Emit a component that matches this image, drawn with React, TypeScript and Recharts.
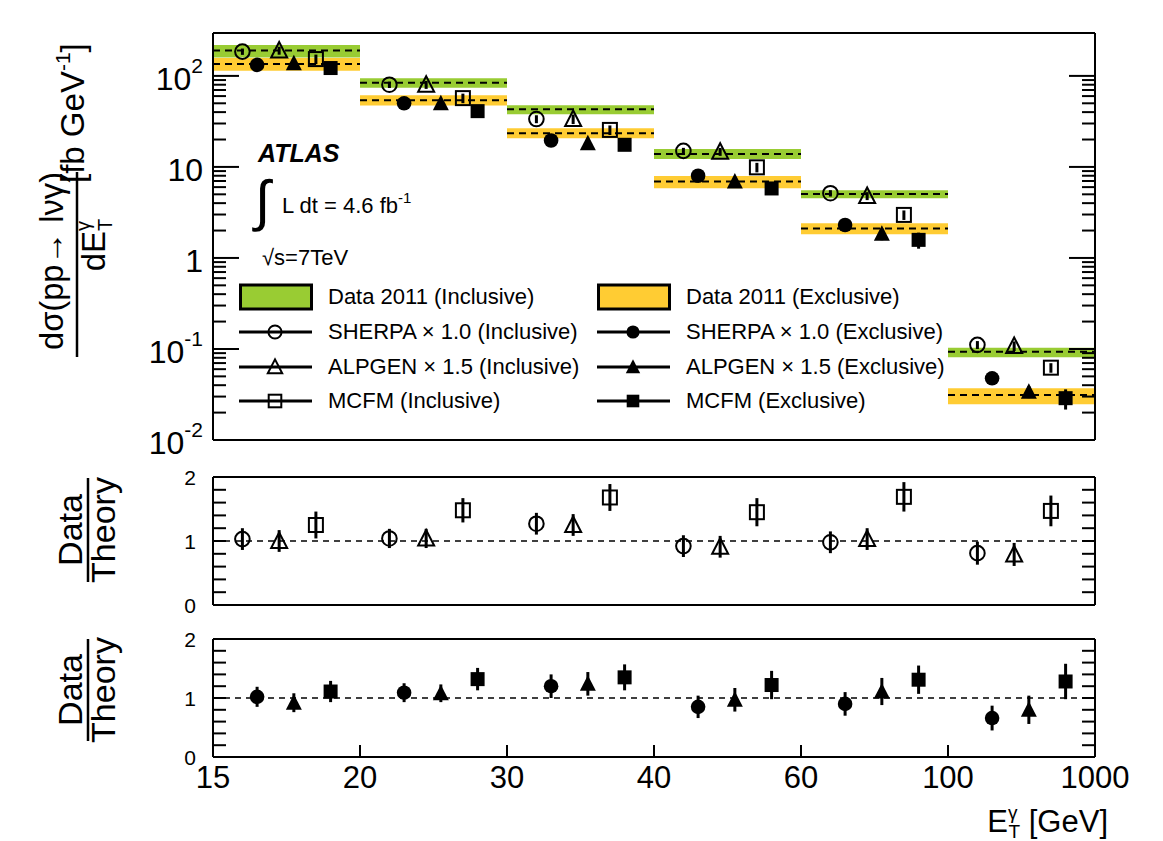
import React from 'react';
import {
  ComposedChart, Scatter, XAxis, YAxis, ReferenceArea, ReferenceLine, ErrorBar, Legend,
} from 'recharts';

const FONT = '"Liberation Sans", Arial, Helvetica, sans-serif';
const W = 1163;

// E_T^gamma bin edges [GeV]; bins are drawn with equal width
const BIN_EDGES = ['15', '20', '30', '40', '60', '100', '1000'];

// measured cross sections [fb/GeV]: centre and band edges
const INCL_DATA = [190, 84, 43, 13.9, 5.05, 0.093];
const INCL_LOW = [159, 74, 38, 12.2, 4.53, 0.081];
const INCL_HIGH = [219, 94, 47.6, 15.7, 5.55, 0.103];
const EXCL_DATA = [135, 54, 23.4, 6.9, 2.1, 0.0313];
const EXCL_LOW = [114, 47.2, 20.6, 5.84, 1.82, 0.0247];
const EXCL_HIGH = [157, 61.4, 26.6, 7.96, 2.4, 0.037];

// predictions [fb/GeV]
const SHERPA_INCL = [185, 80, 33.6, 15, 5.14, 0.111];
const SHERPA_EXCL = [132, 50, 19.5, 8.0, 2.3, 0.0476];
const ALPGEN_INCL = [190, 80, 33.6, 14.7, 4.8, 0.108];
const ALPGEN_EXCL = [138, 50, 18.2, 6.9, 1.84, 0.0339];
const MCFM_INCL = [153, 57, 25.5, 9.9, 2.97, 0.0623];
const MCFM_EXCL = [122, 41, 17.5, 5.8, 1.58, 0.0288];

// relative uncertainties of predictions
const SHERPA_INCL_ERR = [0.08, 0.08, 0.1, 0.08, 0.08, 0.1];
const SHERPA_EXCL_ERR = [0.08, 0.08, 0.12, 0.1, 0.1, 0.15];
const ALPGEN_INCL_ERR = [0.1, 0.1, 0.12, 0.1, 0.1, 0.12];
const ALPGEN_EXCL_ERR = [0.1, 0.1, 0.15, 0.12, 0.15, 0.15];
const MCFM_INCL_ERR = [0.12, 0.12, 0.12, 0.12, 0.12, 0.12];
const MCFM_EXCL_ERR = [0.1, 0.1, 0.12, 0.15, 0.2, 0.25];

// data / theory, inclusive
const R_SHERPA_INCL = [1.03, 1.04, 1.27, 0.92, 0.98, 0.81];
const R_SHERPA_INCL_ERR = [0.17, 0.15, 0.17, 0.17, 0.17, 0.18];
const R_ALPGEN_INCL = [1.0, 1.04, 1.25, 0.91, 1.03, 0.79];
const R_ALPGEN_INCL_ERR = [0.17, 0.15, 0.17, 0.17, 0.17, 0.18];
const R_MCFM_INCL = [1.25, 1.48, 1.68, 1.45, 1.69, 1.47];
const R_MCFM_INCL_ERR = [0.21, 0.19, 0.21, 0.22, 0.23, 0.24];

// data / theory, exclusive
const R_SHERPA_EXCL = [1.02, 1.09, 1.2, 0.85, 0.9, 0.66];
const R_SHERPA_EXCL_ERR = [0.17, 0.16, 0.2, 0.19, 0.2, 0.21];
const R_ALPGEN_EXCL = [0.92, 1.08, 1.24, 0.97, 1.11, 0.8];
const R_ALPGEN_EXCL_ERR = [0.16, 0.15, 0.2, 0.2, 0.23, 0.24];
const R_MCFM_EXCL = [1.11, 1.32, 1.35, 1.22, 1.31, 1.28];
const R_MCFM_EXCL_ERR = [0.18, 0.19, 0.22, 0.24, 0.24, 0.3];

const LEG_INCL = ['Data 2011 (Inclusive)', 'SHERPA \u00d7 1.0 (Inclusive)', 'ALPGEN \u00d7 1.5 (Inclusive)', 'MCFM (Inclusive)'];
const LEG_EXCL = ['Data 2011 (Exclusive)', 'SHERPA \u00d7 1.0 (Exclusive)', 'ALPGEN \u00d7 1.5 (Exclusive)', 'MCFM (Exclusive)'];

const LOG_MAJOR = [0.01, 0.1, 1, 10, 100];
const LOG_MAJOR_LABELS = [['10', '-2'], ['10', '-1'], ['1', ''], ['10', ''], ['10', '2']];
const LOG_TICKS = LOG_MAJOR
  .flatMap((m) => [1, 2, 3, 4, 5, 6, 7, 8, 9].map((k) => +(m * k).toPrecision(3)))
  .filter((v) => v <= 100);
const RATIO_TICKS = [0, 0.2, 0.4, 0.6, 0.8, 1, 1.2, 1.4, 1.6, 1.8, 2];
const RATIO_LABELS = [0, 1, 2];
const X_TICKS = BIN_EDGES.map((_, i) => i);

const GREEN = '#99cc33';
const YELLOW = '#ffcc33';
const AXIS = { stroke: '#000', strokeWidth: 2 };

const pts = (vals: number[], errs: number[], off: number, rel: boolean) =>
  vals.map((v, i) => ({ x: i + off, y: v, err: rel ? v * errs[i] : errs[i] }));

const Mark = ({ kind, cx, cy, s = 1 }: any) => {
  if (cx == null || cy == null) return <g />;
  const open = kind.startsWith('open');
  const fill = open ? 'none' : '#000';
  const sw = open ? 2 : 0;
  if (kind === 'openCircle' || kind === 'circle')
    return <circle cx={cx} cy={cy} r={7.3 * s} fill={fill} stroke="#000" strokeWidth={sw} />;
  if (kind === 'openTriangle' || kind === 'triangle')
    return (
      <polygon
        points={`${cx},${cy - 8.5 * s} ${cx - 8 * s},${cy + 7 * s} ${cx + 8 * s},${cy + 7 * s}`}
        fill={fill} stroke="#000" strokeWidth={sw}
      />
    );
  return <rect x={cx - 7 * s} y={cy - 7 * s} width={14 * s} height={14 * s} fill={fill} stroke="#000" strokeWidth={sw} />;
};

const shape = (kind: string) => (p: any) => <Mark kind={kind} cx={p.cx} cy={p.cy} />;

const LogTick = ({ x, y, payload, side }: any) => {
  const v = payload.value as number;
  const idx = LOG_MAJOR.findIndex((m) => Math.abs(v / m - 1) < 1e-6);
  const len = idx >= 0 ? 26 : 13;
  const dir = side === 'left' ? 1 : -1;
  return (
    <g>
      <line x1={x} x2={x + dir * len} y1={y} y2={y} stroke="#000" strokeWidth={2} />
      {side === 'left' && idx >= 0 && (
        <text x={x - 10} y={y + 14} textAnchor="end" fontSize={32} fontFamily={FONT} fill="#000">
          {LOG_MAJOR_LABELS[idx][0]}
          {LOG_MAJOR_LABELS[idx][1] && <tspan dy={-17} fontSize={21}>{LOG_MAJOR_LABELS[idx][1]}</tspan>}
        </text>
      )}
    </g>
  );
};

const RatioTick = ({ x, y, payload, side }: any) => {
  const v = payload.value as number;
  const dir = side === 'left' ? 1 : -1;
  const lab = RATIO_LABELS.find((l) => Math.abs(l - v) < 1e-6);
  return (
    <g>
      <line x1={x} x2={x + dir * 13} y1={y} y2={y} stroke="#000" strokeWidth={2} />
      {side === 'left' && lab !== undefined && (
        <text x={x - 17} y={y + 8} textAnchor="end" fontSize={21} fontFamily={FONT} fill="#000">{String(lab)}</text>
      )}
    </g>
  );
};

const LegendBox = () => {
  const rows = [14, 49, 84, 118];
  const cols = [0, 358];
  const kinds = [
    ['band', 'openCircle', 'openTriangle', 'openSquare'],
    ['band', 'circle', 'triangle', 'square'],
  ];
  const labels = [LEG_INCL, LEG_EXCL];
  return (
    <svg width={800} height={135} style={{ display: 'block', overflow: 'visible' }}>
      {cols.map((cx, c) =>
        rows.map((ry, r) => (
          <g key={`${c}-${r}`}>
            {kinds[c][r] === 'band' ? (
              <rect x={cx + 1.5} y={ry - 12} width={71} height={24} fill={c === 0 ? GREEN : YELLOW} stroke="#000" strokeWidth={3} />
            ) : (
              <g>
                <line x1={cx} x2={cx + 73} y1={ry} y2={ry} stroke="#000" strokeWidth={3} />
                <Mark kind={kinds[c][r]} cx={cx + 36} cy={ry} s={0.9} />
              </g>
            )}
            <text x={cx + 89} y={ry + 7} fontSize={22} fontFamily={FONT} fill="#000">{labels[c][r]}</text>
          </g>
        ))
      )}
    </svg>
  );
};

const TOP_SERIES = [
  { d: pts(SHERPA_INCL, SHERPA_INCL_ERR, 0.2, true), kind: 'openCircle' },
  { d: pts(SHERPA_EXCL, SHERPA_EXCL_ERR, 0.3, true), kind: 'circle' },
  { d: pts(ALPGEN_INCL, ALPGEN_INCL_ERR, 0.45, true), kind: 'openTriangle' },
  { d: pts(ALPGEN_EXCL, ALPGEN_EXCL_ERR, 0.55, true), kind: 'triangle' },
  { d: pts(MCFM_INCL, MCFM_INCL_ERR, 0.7, true), kind: 'openSquare' },
  { d: pts(MCFM_EXCL, MCFM_EXCL_ERR, 0.8, true), kind: 'square' },
];
const MID_SERIES = [
  { d: pts(R_SHERPA_INCL, R_SHERPA_INCL_ERR, 0.2, false), kind: 'openCircle' },
  { d: pts(R_ALPGEN_INCL, R_ALPGEN_INCL_ERR, 0.45, false), kind: 'openTriangle' },
  { d: pts(R_MCFM_INCL, R_MCFM_INCL_ERR, 0.7, false), kind: 'openSquare' },
];
const BOT_SERIES = [
  { d: pts(R_SHERPA_EXCL, R_SHERPA_EXCL_ERR, 0.3, false), kind: 'circle' },
  { d: pts(R_ALPGEN_EXCL, R_ALPGEN_EXCL_ERR, 0.55, false), kind: 'triangle' },
  { d: pts(R_MCFM_EXCL, R_MCFM_EXCL_ERR, 0.8, false), kind: 'square' },
];

const renderSeries = (list: { d: any[]; kind: string }[]) =>
  list.map((s, i) => (
    <Scatter key={i} data={s.d} shape={shape(s.kind)} isAnimationActive={false}>
      <ErrorBar dataKey="err" direction="y" width={0} strokeWidth={3} stroke="#000" />
    </Scatter>
  ));

const xAxes = (labels: boolean) => [
  <XAxis
    key="xb" dataKey="x" type="number" domain={[0, 6]} ticks={X_TICKS} allowDataOverflow interval={0}
    tickFormatter={(v: number) => BIN_EDGES[v]}
    tick={labels ? { fontSize: 31, fill: '#000', fontFamily: FONT } : false}
    tickSize={-12} tickMargin={21} height={labels ? 80 : 10} axisLine={AXIS} tickLine={AXIS}
  />,
  <XAxis
    key="xt" xAxisId="top" orientation="top" dataKey="x" type="number" domain={[0, 6]} ticks={X_TICKS}
    allowDataOverflow interval={0} tick={false} tickSize={-12} height={10} axisLine={AXIS} tickLine={AXIS}
  />,
];

const ratioYAxes = () => [
  <YAxis
    key="yl" dataKey="y" type="number" domain={[0, 2]} ticks={RATIO_TICKS} allowDataOverflow interval={0}
    tick={(p: any) => <RatioTick {...p} side="left" />} tickLine={false} tickSize={0} tickMargin={0}
    width={60} axisLine={AXIS}
  />,
  <YAxis
    key="yr" yAxisId="right" orientation="right" dataKey="y" type="number" domain={[0, 2]} ticks={RATIO_TICKS}
    allowDataOverflow interval={0} tick={(p: any) => <RatioTick {...p} side="right" />} tickLine={false}
    tickSize={0} tickMargin={0} width={10} axisLine={AXIS}
  />,
];

const RotLabel = ({ cy, bar }: { cy: number; bar: number }) => (
  <g transform="rotate(-90)" fontFamily={FONT} fill="#000">
    <text x={-cy} y={82} textAnchor="middle" fontSize={34}>Data</text>
    <line x1={-cy - bar / 2} x2={-cy + bar / 2} y1={88} y2={88} stroke="#000" strokeWidth={2.5} />
    <text x={-cy} y={115} textAnchor="middle" fontSize={34}>Theory</text>
  </g>
);

const Annotations = () => (
  <svg width={W} height={841} style={{ position: 'absolute', left: 0, top: 0, pointerEvents: 'none' }} fontFamily={FONT}>
    <g transform="rotate(-90)" fill="#000">
      <text x={-261} y={63} textAnchor="middle" fontSize={33} textLength={178} lengthAdjust="spacingAndGlyphs">
        {'d\u03c3(pp\u2192 l\u03bd\u03b3)'}
      </text>
      <line x1={-357} x2={-172} y1={77} y2={77} stroke="#000" strokeWidth={2.5} />
      <text x={-245} y={105} textAnchor="middle" fontSize={33}>
        dE<tspan dy={-15} fontSize={20}>{'\u03b3'}</tspan>
        <tspan dx={-10} dy={22} fontSize={20}>T</tspan>
      </text>
      <text x={-183} y={84} fontSize={33}>
        [fb GeV<tspan dy={-14} fontSize={21}>-1</tspan><tspan dy={14}>]</tspan>
      </text>
    </g>
    <RotLabel cy={530} bar={104} />
    <RotLabel cy={690} bar={102} />
    <text x={258} y={162} fontSize={25} fontWeight="bold" fontStyle="italic" fill="#000">ATLAS</text>
    <text x={255} y={220} fontSize={56} fill="#000">{'\u222b'}</text>
    <text x={282} y={213} fontSize={22} fill="#000">
      L dt = 4.6 fb<tspan dy={-10} fontSize={15}>-1</tspan>
    </text>
    <text x={262} y={265} fontSize={22} fill="#000">{'\u221as=7TeV'}</text>
    <text x={1108} y={832} textAnchor="end" fontSize={31} fill="#000">
      E<tspan dy={-13} fontSize={19}>{'\u03b3'}</tspan>
      <tspan dx={-9} dy={19} fontSize={19}>T</tspan>
      <tspan dy={-6}> [GeV]</tspan>
    </text>
  </svg>
);

export default function App() {
  return (
    <div style={{ position: 'absolute', left: 0, top: 0, width: W, height: 841, background: '#fff', fontFamily: FONT }}>
      <div style={{ position: 'absolute', left: 0, top: 0 }}>
        <ComposedChart width={W} height={460} margin={{ top: 23, right: 58, bottom: 10, left: 153 }}>
          {xAxes(false)}
          <YAxis
            dataKey="y" type="number" scale="log" domain={[0.01, 296]} ticks={LOG_TICKS} allowDataOverflow interval={0}
            tick={(p: any) => <LogTick {...p} side="left" />} tickLine={false} tickSize={0} tickMargin={0}
            width={60} axisLine={AXIS}
          />
          <YAxis
            yAxisId="right" orientation="right" dataKey="y" type="number" scale="log" domain={[0.01, 296]}
            ticks={LOG_TICKS} allowDataOverflow interval={0} tick={(p: any) => <LogTick {...p} side="right" />}
            tickLine={false} tickSize={0} tickMargin={0} width={10} axisLine={AXIS}
          />
          {INCL_DATA.map((v, i) => (
            <ReferenceArea key={`gi${i}`} x1={i} x2={i + 1} y1={INCL_LOW[i]} y2={INCL_HIGH[i]} fill={GREEN} fillOpacity={1} stroke="none" />
          ))}
          {EXCL_DATA.map((v, i) => (
            <ReferenceArea key={`ye${i}`} x1={i} x2={i + 1} y1={EXCL_LOW[i]} y2={EXCL_HIGH[i]} fill={YELLOW} fillOpacity={1} stroke="none" />
          ))}
          {INCL_DATA.map((v, i) => (
            <ReferenceLine key={`li${i}`} segment={[{ x: i, y: v }, { x: i + 1, y: v }]} stroke="#000" strokeWidth={2} strokeDasharray="7 5" />
          ))}
          {EXCL_DATA.map((v, i) => (
            <ReferenceLine key={`le${i}`} segment={[{ x: i, y: v }, { x: i + 1, y: v }]} stroke="#000" strokeWidth={2} strokeDasharray="7 5" />
          ))}
          {renderSeries(TOP_SERIES)}
          <Legend
            content={() => <LegendBox />}
            verticalAlign="middle" align="center" layout="horizontal"
            wrapperStyle={{ left: 239, top: 283, width: 800, height: 135 }}
          />
        </ComposedChart>
      </div>
      <div style={{ position: 'absolute', left: 0, top: 460 }}>
        <ComposedChart width={W} height={160} margin={{ top: 7, right: 58, bottom: 5, left: 153 }}>
          {xAxes(false)}
          {ratioYAxes()}
          <ReferenceLine y={1} stroke="#000" strokeWidth={1.5} strokeDasharray="6 5" />
          {renderSeries(MID_SERIES)}
        </ComposedChart>
      </div>
      <div style={{ position: 'absolute', left: 0, top: 620 }}>
        <ComposedChart width={W} height={221} margin={{ top: 9, right: 58, bottom: 4, left: 153 }}>
          {xAxes(true)}
          {ratioYAxes()}
          <ReferenceLine y={1} stroke="#000" strokeWidth={1.5} strokeDasharray="6 5" />
          {renderSeries(BOT_SERIES)}
        </ComposedChart>
      </div>
      <Annotations />
    </div>
  );
}
